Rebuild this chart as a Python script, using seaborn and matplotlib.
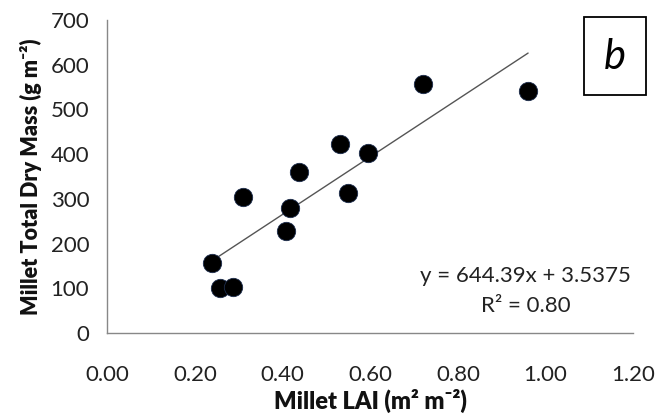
import matplotlib
matplotlib.use("Agg")
import matplotlib.pyplot as plt
from matplotlib.patches import Rectangle
import seaborn as sns
import pandas as pd

lai = [0.238, 0.257, 0.287, 0.310, 0.407, 0.417, 0.437, 0.531, 0.550, 0.595, 0.721, 0.960]
mass = [156, 100, 102, 305, 228, 280, 359, 423, 314, 403, 557, 542]
xticks = [0.0, 0.2, 0.4, 0.6, 0.8, 1.0, 1.2]
yticks = [0, 100, 200, 300, 400, 500, 600, 700]
eq_text = "y = 644.39x + 3.5375"
r2_text = "R² = 0.80"
panel = "b"

sns.set_theme(style="white")
plt.rcParams['font.family'] = ['Lato', 'DejaVu Sans']

df = pd.DataFrame({"lai": lai, "mass": mass})

fig = plt.figure(figsize=(6.61, 4.15), dpi=100)
ax = fig.add_axes([0.1623, 0.1976, 0.7958, 0.7542])

sns.regplot(data=df, x="lai", y="mass", ax=ax, ci=None, truncate=True,
            scatter_kws=dict(s=175, color="black", edgecolor="#1c2c4c", linewidths=0.6,
                             alpha=1, zorder=3),
            line_kws=dict(color="#555555", linewidth=1.0, zorder=2))

ax.set_xlim(0, 1.2)
ax.set_ylim(0, 700)
ax.set_xticks(xticks)
ax.set_xticklabels([f"{v:.2f}" for v in xticks])
ax.set_yticks(yticks)
ax.set_yticklabels([str(v) for v in yticks])
ax.tick_params(axis="both", labelsize=16, colors="#222222", direction="out",
               width=1, color="#888888")
ax.tick_params(axis="y", length=8, pad=5)
ax.tick_params(axis="x", length=9, pad=14)
for s in ["top", "right"]:
    ax.spines[s].set_visible(False)
for s in ["left", "bottom"]:
    ax.spines[s].set_color("#888888")
    ax.spines[s].set_linewidth(1)

ax.set_xlabel("Millet LAI (m² m⁻²)", fontsize=17, fontweight="heavy", color="#111111", labelpad=3)
ax.set_ylabel("Millet Total Dry Mass (g m⁻²)", fontsize=15.5, fontweight="heavy", color="#111111", labelpad=6)

ax.text(0.955, 127, eq_text, ha="center", va="center", fontsize=16, color="#222222")
ax.text(0.955, 60, r2_text, ha="center", va="center", fontsize=16, color="#222222")

fig.patches.append(Rectangle((584 / 661, 1 - 95 / 415), 62 / 661, 78 / 415,
                             transform=fig.transFigure, facecolor="white",
                             edgecolor="black", linewidth=1.3, zorder=5))
fig.text(615 / 661, 1 - 57 / 415, panel, ha="center", va="center", fontsize=30,
         style="italic", color="black", zorder=6)

fig.savefig("out.png", dpi=100)
